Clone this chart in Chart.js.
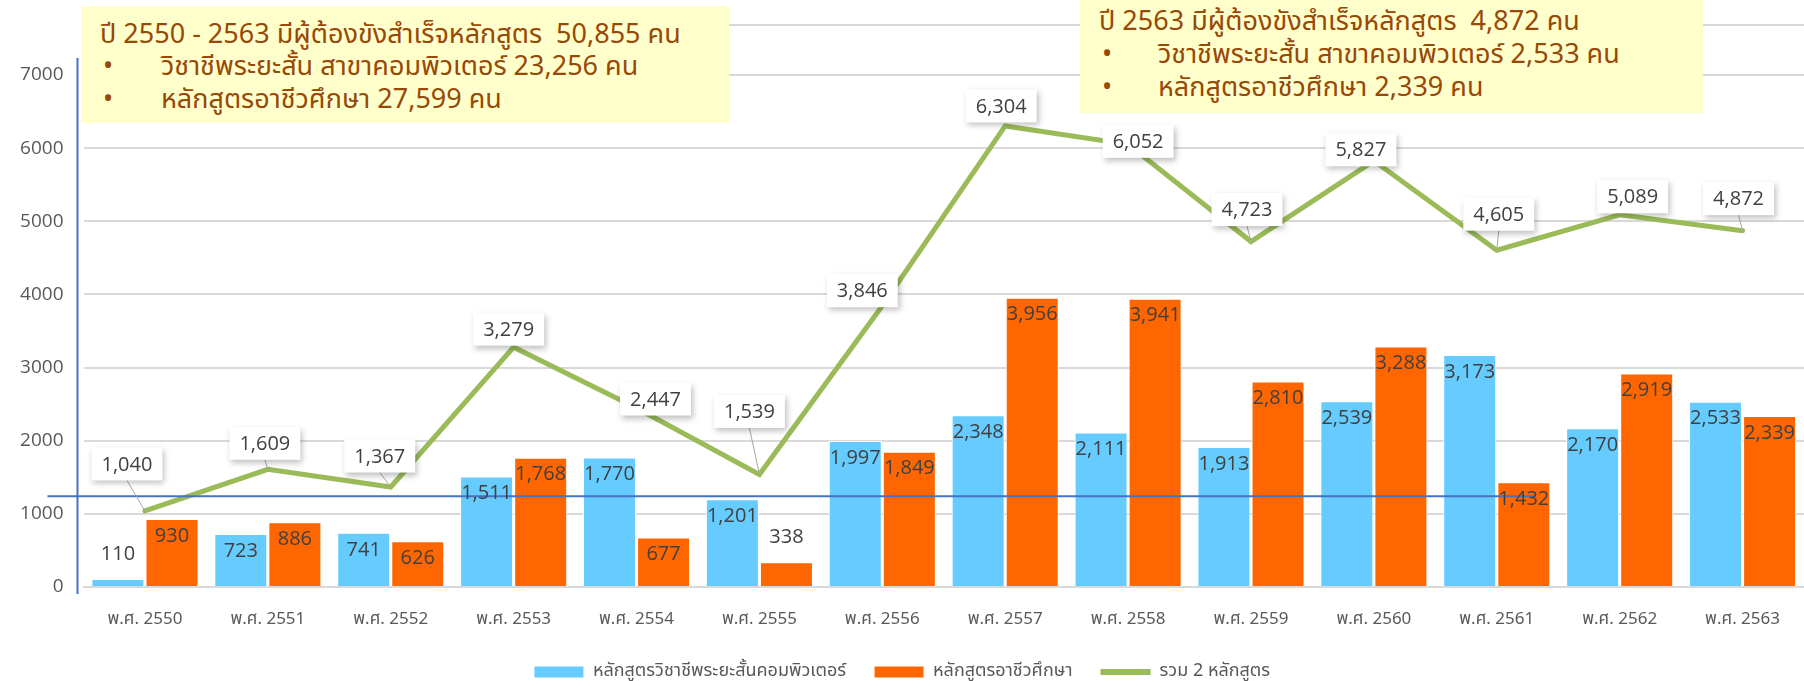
<!DOCTYPE html>
<html>
<head>
<meta charset="utf-8">
<script src="https://cdn.jsdelivr.net/npm/chart.js@4.4.1/dist/chart.umd.min.js"></script>
<style>
  html, body { margin: 0; padding: 0; background: #fff; }
  #wrap { position: relative; width: 1804px; height: 681px; }
  .note {
    position: absolute; background: #FFFFCC; color: #984807;
    font-family: 'Noto Sans Thai', 'Noto Sans Thai UI', Tahoma, 'Noto Sans', sans-serif;
    font-size: 27px; white-space: pre; box-sizing: border-box;
  }
  .note div { position: absolute; left: 0; }
  .note .b { position: absolute; }
</style>
</head>
<body>
<div id="wrap">
  <canvas id="grafico" width="1804" height="681"></canvas>
  <div class="note" id="nota1" style="left:81px; top:6px; width:648px; height:117px;"></div>
  <div class="note" id="nota2" style="left:1080px; top:0px; width:623px; height:113px;"></div>
</div>
<script>
// dados
const anos = ['พ.ศ. 2550','พ.ศ. 2551','พ.ศ. 2552','พ.ศ. 2553','พ.ศ. 2554','พ.ศ. 2555','พ.ศ. 2556',
              'พ.ศ. 2557','พ.ศ. 2558','พ.ศ. 2559','พ.ศ. 2560','พ.ศ. 2561','พ.ศ. 2562','พ.ศ. 2563'];
const cursoComputador = [110, 723, 741, 1511, 1770, 1201, 1997, 2348, 2111, 1913, 2539, 3173, 2170, 2533];
const cursoProfissional = [930, 886, 626, 1768, 677, 338, 1849, 3956, 3941, 2810, 3288, 1432, 2919, 2339];
const totalDois = [1040, 1609, 1367, 3279, 2447, 1539, 3846, 6304, 6052, 4723, 5827, 4605, 5089, 4872];
const ticksY = [0, 1000, 2000, 3000, 4000, 5000, 6000, 7000];
const nomesSeries = ['หลักสูตรวิชาชีพระยะสั้นคอมพิวเตอร์', 'หลักสูตรอาชีวศึกษา', 'รวม 2 หลักสูตร'];

const textoNota1 = ['ปี 2550 - 2563 มีผู้ต้องขังสำเร็จหลักสูตร  50,855 คน',
                    'วิชาชีพระยะสั้น สาขาคอมพิวเตอร์ 23,256 คน',
                    'หลักสูตรอาชีวศึกษา 27,599 คน'];
const textoNota2 = ['ปี 2563 มีผู้ต้องขังสำเร็จหลักสูตร  4,872 คน',
                    'วิชาชีพระยะสั้น สาขาคอมพิวเตอร์ 2,533 คน',
                    'หลักสูตรอาชีวศึกษา 2,339 คน'];

// deslocamento das etiquetas da linha (como foram arrastadas no Excel)
const desvioEtiqueta = [[-18,-47],[-3,-26],[-11,-31],[-5,-18],[19,-9],[-10,-63],[-20,-15],
                        [-4,-20],[10,-3],[-4,-32],[-13,-11],[2,-36],[13,-18],[-4,-32]];

function montarNota(id, linhas, x0, xb, xt, ys) {
  const el = document.getElementById(id);
  linhas.forEach(function(t, i) {
    const d = document.createElement('div');
    d.style.top = (ys[i] - 18) + 'px';
    d.style.lineHeight = '36px';
    if (i == 0) {
      d.style.left = x0 + 'px';
      d.textContent = t;
    } else {
      const b = document.createElement('span');
      b.className = 'b';
      b.style.left = xb + 'px';
      b.textContent = '•';
      const s = document.createElement('span');
      s.className = 'b';
      s.style.left = xt + 'px';
      s.textContent = t;
      d.appendChild(b);
      d.appendChild(s);
    }
    el.appendChild(d);
  });
}
montarNota('nota1', textoNota1, 19, 22, 80, [29, 61, 94]);
montarNota('nota2', textoNota2, 19, 22, 78, [22, 55, 88]);

const fonteNum = "'Open Sans', 'Noto Sans', sans-serif";
const fonteThai = "'Noto Sans Thai', 'Noto Sans Thai UI', Tahoma, 'Noto Sans', sans-serif";

const pluginEtiquetas = {
  id: 'etiquetas',
  beforeDatasetsDraw(chart) {
    const ctx = chart.ctx, a = chart.chartArea;
    ctx.save();
    // linha cinza do topo
    ctx.strokeStyle = '#D9D9D9';
    ctx.lineWidth = 2;
    ctx.beginPath();
    ctx.moveTo(a.left, a.top - 50);
    ctx.lineTo(a.right, a.top - 50);
    ctx.stroke();
    ctx.restore();
  },
  afterDatasetsDraw(chart) {
    const ctx = chart.ctx, a = chart.chartArea, y = chart.scales.y, x = chart.scales.x;
    ctx.save();
    // eixo azul vertical e linha azul horizontal
    ctx.strokeStyle = '#4472C4';
    ctx.lineWidth = 2;
    ctx.beginPath();
    ctx.moveTo(a.left - 6, a.top - 17);
    ctx.lineTo(a.left - 6, a.bottom + 7);
    ctx.stroke();
    const yAzul = y.getPixelForValue(1240);
    ctx.beginPath();
    ctx.moveTo(a.left - 36, yAzul);
    ctx.lineTo(x.getPixelForValue(11) + 39, yAzul);
    ctx.stroke();

    // etiquetas das barras
    ctx.font = '20px ' + fonteNum;
    ctx.fillStyle = '#404040';
    ctx.textAlign = 'center';
    ctx.textBaseline = 'middle';
    [0, 1].forEach(function(di) {
      const meta = chart.getDatasetMeta(di);
      const valores = chart.data.datasets[di].data;
      meta.data.forEach(function(bar, i) {
        const v = valores[i];
        const ty = v < 500 ? bar.y - 25 : bar.y + 17;
        ctx.fillText(v.toLocaleString('en-US'), bar.x, ty);
      });
    });

    // etiquetas da linha
    const metaL = chart.getDatasetMeta(2);
    metaL.data.forEach(function(pt, i) {
      const txt = totalDois[i].toLocaleString('en-US');
      const w = ctx.measureText(txt).width + 20, h = 33;
      const cx = pt.x + desvioEtiqueta[i][0], cy = pt.y + desvioEtiqueta[i][1];
      if (cy + h / 2 < pt.y - 4) {
        ctx.strokeStyle = '#A6A6A6';
        ctx.lineWidth = 1;
        ctx.beginPath();
        ctx.moveTo(cx, cy + h / 2);
        ctx.lineTo(pt.x, pt.y);
        ctx.stroke();
      }
      ctx.save();
      ctx.shadowColor = 'rgba(0,0,0,0.25)';
      ctx.shadowBlur = 6;
      ctx.shadowOffsetX = 2;
      ctx.shadowOffsetY = 3;
      ctx.fillStyle = '#FFFFFF';
      ctx.fillRect(cx - w / 2, cy - h / 2, w, h);
      ctx.restore();
      ctx.fillStyle = '#404040';
      ctx.fillText(txt, cx, cy + 1);
    });
    ctx.restore();
  }
};

const ctx = document.getElementById('grafico');
new Chart(ctx, {
  type: 'bar',
  data: {
    labels: anos,
    datasets: [{
      label: nomesSeries[0],
      data: cursoComputador,
      backgroundColor: '#66CCFF',
      borderColor: '#FFFFFF',
      borderWidth: 1,
      pointStyle: 'rect',
      categoryPercentage: 0.88,
      barPercentage: 0.98,
      order: 2
    }, {
      label: nomesSeries[1],
      data: cursoProfissional,
      backgroundColor: '#FF6600',
      borderColor: '#FFFFFF',
      borderWidth: 1,
      pointStyle: 'rect',
      categoryPercentage: 0.88,
      barPercentage: 0.98,
      order: 2
    }, {
      type: 'line',
      label: nomesSeries[2],
      data: totalDois,
      borderColor: '#9BBB59',
      backgroundColor: '#9BBB59',
      borderWidth: 5,
      pointRadius: 0,
      pointHoverRadius: 0,
      pointStyle: 'line',
      pointBorderColor: '#9BBB59',
      pointBorderWidth: 6,
      borderCapStyle: 'round',
      tension: 0,
      order: 1
    }]
  },
  options: {
    responsive: false,
    animation: false,
    layout: { padding: { top: 75, right: 0, left: 0, bottom: -10 } },
    plugins: {
      tooltip: { enabled: false },
      legend: {
        position: 'bottom',
        labels: {
          usePointStyle: true,
          pointStyleWidth: 50,
          boxHeight: 12,
          padding: 28,
          color: '#595959',
          font: { size: 18, family: fonteThai },
          sort: function(a, b) { return a.datasetIndex - b.datasetIndex; }
        }
      }
    },
    scales: {
      x: {
        grid: { display: false, drawTicks: false },
        border: { display: true, color: '#D9D9D9', width: 2 },
        ticks: { color: '#595959', padding: 23, font: { size: 17, family: fonteThai } },
        afterFit: function(s) { s.height = 48; }
      },
      y: {
        min: 0,
        max: 7000,
        afterBuildTicks: function(s) { s.ticks = ticksY.map(function(v) { return { value: v }; }); },
        grid: { color: '#D9D9D9', lineWidth: 2, drawTicks: false },
        border: { display: false },
        ticks: {
          color: '#595959',
          padding: 20,
          font: { size: 19, family: fonteNum },
          callback: function(v) { return String(v); }
        },
        afterFit: function(s) { s.width = 83.5; }
      }
    }
  },
  plugins: [pluginEtiquetas]
});
</script>
</body>
</html>
